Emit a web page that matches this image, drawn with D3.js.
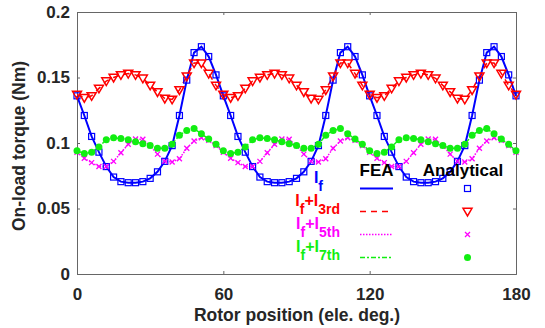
<!DOCTYPE html>
<html>
<head>
<meta charset="utf-8">
<script src="https://cdn.jsdelivr.net/npm/d3@7"></script>
<style>
body { margin: 0; background: #fff; }
svg { display: block; font-family: Arial, "Liberation Sans", sans-serif; }
</style>
</head>
<body>
<svg width="545" height="328"></svg>
<script>
var width = 545;
var height = 328;

// rotor position (ele. deg.), every 3 deg
var angles = [0, 3, 6, 9, 12, 15, 18, 21, 24, 27, 30, 33, 36, 39, 42, 45, 48, 51, 54, 57,
    60, 63, 66, 69, 72, 75, 78, 81, 84, 87, 90, 93, 96, 99, 102, 105, 108, 111, 114, 117,
    120, 123, 126, 129, 132, 135, 138, 141, 144, 147, 150, 153, 156, 159, 162, 165, 168, 171, 174, 177, 180];

// torque (Nm)
var torqueF = [0.136, 0.121, 0.105, 0.093, 0.082, 0.074, 0.0705, 0.0697, 0.0697, 0.0705, 0.073, 0.078, 0.086, 0.098, 0.121, 0.148, 0.169, 0.1735, 0.166, 0.152,
    0.136, 0.121, 0.105, 0.093, 0.082, 0.074, 0.0705, 0.0697, 0.0697, 0.0705, 0.073, 0.078, 0.086, 0.098, 0.121, 0.148, 0.169, 0.1735, 0.166, 0.152,
    0.136, 0.121, 0.105, 0.093, 0.082, 0.074, 0.0705, 0.0697, 0.0697, 0.0705, 0.073, 0.078, 0.086, 0.098, 0.121, 0.148, 0.169, 0.1735, 0.166, 0.152, 0.136];
var torque3rd = [0.137, 0.1346, 0.136, 0.1417, 0.1473, 0.150, 0.152, 0.153, 0.152, 0.1494, 0.144, 0.139, 0.134, 0.1333, 0.1405, 0.151, 0.161, 0.161, 0.153, 0.144,
    0.137, 0.1346, 0.136, 0.1417, 0.1473, 0.150, 0.152, 0.153, 0.152, 0.1494, 0.144, 0.139, 0.134, 0.1333, 0.1405, 0.151, 0.161, 0.161, 0.153, 0.144,
    0.137, 0.1346, 0.136, 0.1417, 0.1473, 0.150, 0.152, 0.153, 0.152, 0.1494, 0.144, 0.139, 0.134, 0.1333, 0.1405, 0.151, 0.161, 0.161, 0.153, 0.144, 0.137];
var torque5th = [0.093, 0.0883, 0.085, 0.082, 0.082, 0.086, 0.0925, 0.099, 0.103, 0.1028, 0.098, 0.0915, 0.086, 0.0855, 0.088, 0.096, 0.1015, 0.104, 0.102, 0.098,
    0.093, 0.0883, 0.085, 0.082, 0.082, 0.086, 0.0925, 0.099, 0.103, 0.1028, 0.098, 0.0915, 0.086, 0.0855, 0.088, 0.096, 0.1015, 0.104, 0.102, 0.098,
    0.093, 0.0883, 0.085, 0.082, 0.082, 0.086, 0.0925, 0.099, 0.103, 0.1028, 0.098, 0.0915, 0.086, 0.0855, 0.088, 0.096, 0.1015, 0.104, 0.102, 0.098, 0.093];
var torque7th = [0.094, 0.092, 0.093, 0.097, 0.1025, 0.104, 0.1035, 0.1025, 0.101, 0.0995, 0.098, 0.096, 0.096, 0.099, 0.106, 0.1095, 0.111, 0.107, 0.103, 0.099,
    0.094, 0.092, 0.093, 0.097, 0.1025, 0.104, 0.1035, 0.1025, 0.101, 0.0995, 0.098, 0.096, 0.096, 0.099, 0.106, 0.1095, 0.111, 0.107, 0.103, 0.099,
    0.094, 0.092, 0.093, 0.097, 0.1025, 0.104, 0.1035, 0.1025, 0.101, 0.0995, 0.098, 0.096, 0.096, 0.099, 0.106, 0.1095, 0.111, 0.107, 0.103, 0.099, 0.094];

var xTicks = [0, 60, 120, 180];
var yTicks = [0, 0.05, 0.1, 0.15, 0.2];

var series = [
    { name: "f", sub2: null, values: torqueF, color: "#0000ff", dash: null, marker: "square" },
    { name: "f", sub2: "3rd", values: torque3rd, color: "#ff0000", dash: "6,5", marker: "tri" },
    { name: "f", sub2: "5th", values: torque5th, color: "#ff00ff", dash: "1.5,1.5", marker: "cross" },
    { name: "f", sub2: "7th", values: torque7th, color: "#11ee11", dash: "5,2,2,2", marker: "dot" }
];

var x = d3.scaleLinear().domain([0, 180]).range([77, 516]);
var y = d3.scaleLinear().domain([0, 0.2]).range([274, 12]);

var svg = d3.select("svg");
svg.append("rect").attr("width", width).attr("height", height).attr("fill", "#fff");

// box + axes
var axisColor = "#262626";
var xAxis = svg.append("g")
    .attr("transform", "translate(0,274)")
    .call(d3.axisBottom(x).tickValues(xTicks).tickSize(-3).tickPadding(14).tickFormat(d3.format("d")));
var xAxisTop = svg.append("g")
    .attr("transform", "translate(0,12)")
    .call(d3.axisTop(x).tickValues(xTicks).tickSize(-3).tickFormat(""));
var yAxis = svg.append("g")
    .attr("transform", "translate(77,0)")
    .call(d3.axisLeft(y).tickValues(yTicks).tickSize(-3).tickPadding(7).tickFormat(function (d) { return d === 0 ? "0" : String(+d.toFixed(2)); }));
var yAxisRight = svg.append("g")
    .attr("transform", "translate(516,0)")
    .call(d3.axisRight(y).tickValues(yTicks).tickSize(-3).tickFormat(""));

svg.selectAll(".domain, .tick line").attr("stroke", "#666").attr("stroke-width", 1);
svg.selectAll(".tick text")
    .attr("fill", axisColor)
    .attr("font-size", "17px")
    .attr("font-weight", "bold")
    .attr("font-family", "Arial, 'Liberation Sans', sans-serif");

// axis titles
svg.append("text")
    .attr("x", 297)
    .attr("y", 321)
    .attr("text-anchor", "middle")
    .attr("font-size", "17.5px")
    .attr("font-weight", "bold")
    .attr("fill", axisColor)
    .text("Rotor position (ele. deg.)");
svg.append("text")
    .attr("transform", "translate(25,146) rotate(-90)")
    .attr("text-anchor", "middle")
    .attr("font-size", "17.5px")
    .attr("font-weight", "bold")
    .attr("fill", axisColor)
    .text("On-load torque (Nm)");

// FEA lines
var line = d3.line()
    .x(function (d) { return x(d[0]); })
    .y(function (d) { return y(d[1]); });

function pairs(vals) {
    return angles.map(function (a, i) { return [a, vals[i]]; });
}

series.forEach(function (s, i) {
    svg.append("path")
        .datum(pairs(s.values))
        .attr("d", line)
        .attr("fill", "none")
        .attr("stroke", s.color)
        .attr("stroke-width", i === 0 ? 2 : 1.5)
        .attr("stroke-dasharray", s.dash);
});

// markers
function drawMarker(g, type, color) {
    if (type === "square") {
        g.append("rect").attr("x", -3).attr("y", -3).attr("width", 6).attr("height", 6)
            .attr("fill", "none").attr("stroke", color).attr("stroke-width", 1.2);
    } else if (type === "tri") {
        g.append("path").attr("d", "M-4.5,-3.2L4.5,-3.2L0,4.5Z")
            .attr("fill", "none").attr("stroke", color).attr("stroke-width", 1.5);
    } else if (type === "cross") {
        g.append("path").attr("d", "M-2.5,-2.5L2.5,2.5M-2.5,2.5L2.5,-2.5")
            .attr("fill", "none").attr("stroke", color).attr("stroke-width", 1.3);
    } else {
        g.append("circle").attr("r", 3.5).attr("fill", color);
    }
}

series.forEach(function (s) {
    var pts = svg.append("g").selectAll("g")
        .data(pairs(s.values))
        .enter()
        .append("g")
        .attr("transform", function (d) { return "translate(" + x(d[0]) + "," + y(d[1]) + ")"; });
    pts.each(function () { drawMarker(d3.select(this), s.marker, s.color); });
});

// legend
var legend = svg.append("g");
legend.append("text").attr("x", 376.5).attr("y", 176).attr("text-anchor", "middle")
    .attr("font-size", "17px").attr("font-weight", "bold").attr("fill", "#000").text("FEA");
legend.append("text").attr("x", 463).attr("y", 176).attr("text-anchor", "middle")
    .attr("font-size", "17px").attr("font-weight", "bold").attr("fill", "#000").text("Analytical");

var rowY = [188.5, 211.5, 234.5, 257.5];
series.forEach(function (s, i) {
    var ry = rowY[i];
    var t = legend.append("text")
        .attr("x", s.sub2 ? 340 : 323)
        .attr("y", ry - 6)
        .attr("text-anchor", "end")
        .attr("font-weight", "bold")
        .attr("fill", s.color);
    t.append("tspan").attr("font-size", "16px").text("I");
    t.append("tspan").attr("font-size", "14px").attr("dy", 8).text(s.name);
    if (s.sub2) {
        t.append("tspan").attr("font-size", "16px").attr("dy", -8).text("+I");
        t.append("tspan").attr("font-size", "14px").attr("dy", 8).text(s.sub2);
    }
    legend.append("line")
        .attr("x1", 360).attr("x2", 393).attr("y1", ry).attr("y2", ry)
        .attr("stroke", s.color)
        .attr("stroke-width", i === 0 ? 2 : 1.5)
        .attr("stroke-dasharray", s.dash);
    var m = legend.append("g").attr("transform", "translate(467.5," + ry + ")");
    drawMarker(m, s.marker, s.color);
});
</script>
</body>
</html>
